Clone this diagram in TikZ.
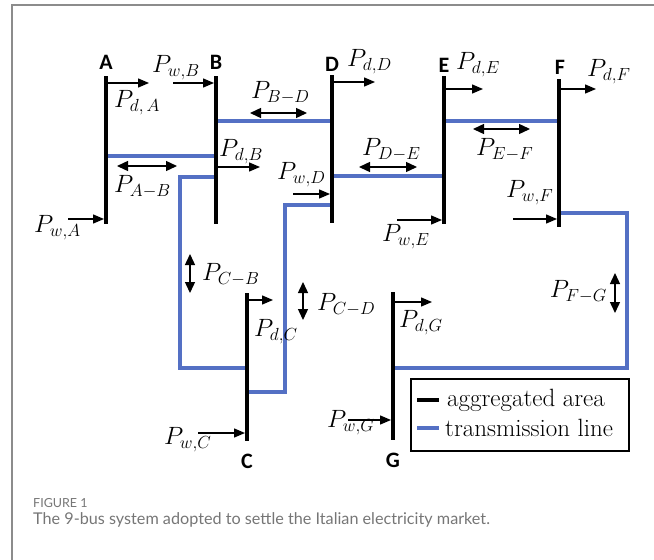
\RequirePackage{fix-cm}
\documentclass[tikz,border=0pt]{standalone}
\usepackage{fontspec}
\newfontfamily\busfont{Carlito}
\newfontfamily\capfont{Lato}
\definecolor{TLblue}{HTML}{5470C4}
\definecolor{CAPgray}{HTML}{767676}
\definecolor{FRAMEgray}{HTML}{8C8C8C}
\usetikzlibrary{arrows.meta, calc}

\begin{document}
\begin{tikzpicture}[x=1pt, y=-1pt,
   bus/.style={line width=4pt},
   tline/.style={TLblue, line width=3.3pt},
   flow/.style={-{Triangle[length=11pt,width=9pt]}, line width=1.4pt},
   exch/.style={{Triangle[length=11pt,width=10pt]}-{Triangle[length=11pt,width=10pt]}, line width=1.4pt},
   lbl/.style={inner sep=0pt, anchor=west, font=\fontsize{25}{28}\selectfont},
   busname/.style={inner sep=0pt, font=\busfont\bfseries\fontsize{22}{25}\selectfont},
   legtxt/.style={inner sep=0pt, anchor=west, font=\fontsize{25}{28}\selectfont}]
   \useasboundingbox (0,0) rectangle (654,560);
   % Frame
   \draw[FRAMEgray, line width=1.2pt] (12,560) -- (12,5) -- (654,5);
   % Bus tops
   \foreach \n/\x/\y in {A/106/76, B/216/76, D/332/75, E/444/76, F/559/79, C/247/293, G/393/292}
      \coordinate (\n) at (\x,\y);
   % Transmission lines
   \draw[tline] (A |- 0,156) -- (B |- 0,156);
   \draw[tline] (B |- 0,121) -- (D |- 0,121);
   \draw[tline] (D |- 0,176) -- (E |- 0,176);
   \draw[tline] (E |- 0,121) -- (F |- 0,121);
   \draw[tline] (B |- 0,177) -| (180,368) -- (C |- 0,368);
   \draw[tline] (D |- 0,205) -| (285,392) -- (C |- 0,392);
   \draw[tline] (F |- 0,213) -| (627,368) -- (G |- 0,368);
   % Aggregated areas
   \foreach \n in {A,B,D,E,F,C,G}
      \draw[bus] (\n) -- ++(0,148);
   \node[busname] (nameA) at (106,62) {A};
   \node[busname] (nameB) at (216,62) {B};
   \node[busname] (nameD) at (332,64) {D};
   \node[busname] (nameE) at (444,65) {E};
   \node[busname] (nameF) at (560,67) {F};
   \node[busname] (nameC) at (247,461) {C};
   \node[busname] (nameG) at (393,460) {G};
   % Demand and wind injections
   \draw[flow] (A |- 0,83) -- ++(43,0);
   \node[lbl] (PdA) at (114,103) {$P_{d,\,A}$};
   \draw[flow, shorten >=2pt] ($(B |- 0,83)+(-43,0)$) -- (B |- 0,83);
   \node[lbl] (PwB) at (152,68) {$P_{w,B}$};
   \draw[flow] (B |- 0,167) -- ++(44,0);
   \node[lbl] (PdB) at (219,152) {$P_{d,B}$};
   \draw[flow, shorten >=2pt] ($(A |- 0,219)+(-38,0)$) -- (A |- 0,219);
   \node[lbl] (PwA) at (34,228) {$P_{w,A}$};
   \draw[flow, shorten >=2pt] ($(D |- 0,194)+(-39,0)$) -- (D |- 0,194);
   \node[lbl] (PwD) at (277,175) {$P_{w,D}$};
   \draw[flow] (D |- 0,82) -- ++(43,0);
   \node[lbl] (PdD) at (347,62) {$P_{d,D}$};
   \draw[flow] (E |- 0,89) -- ++(39,0);
   \node[lbl] (PdE) at (456,65) {$P_{d,E}$};
   \draw[flow] (F |- 0,89) -- ++(37,0);
   \node[lbl] (PdF) at (587,72) {$P_{d,F}$};
   \draw[flow, shorten >=2pt] ($(E |- 0,220)+(-47,0)$) -- (E |- 0,220);
   \node[lbl] (PwE) at (382,237) {$P_{w,E}$};
   \draw[flow, shorten >=2pt] ($(F |- 0,219)+(-46,0)$) -- (F |- 0,219);
   \node[lbl] (PwF) at (506,193) {$P_{w,F}$};
   \draw[flow] (C |- 0,300) -- ++(26,0);
   \node[lbl] (PdC) at (254,332) {$P_{d,C}$};
   \draw[flow, shorten >=2pt] ($(C |- 0,433)+(-49,0)$) -- (C |- 0,433);
   \node[lbl] (PwC) at (164,440) {$P_{w,C}$};
   \draw[flow] (G |- 0,302) -- ++(39,0);
   \node[lbl] (PdG) at (399,323) {$P_{d,G}$};
   \draw[flow, shorten >=2pt] ($(G |- 0,420)+(-45,0)$) -- (G |- 0,420);
   \node[lbl] (PwG) at (327,423) {$P_{w,G}$};
   % Exchanges
   \draw[exch] (117,166) -- (177,166);
   \node[lbl] (PAB) at (114,187) {$P_{A-B}$};
   \draw[exch] (250,113) -- (307,113);
   \node[lbl] (PBD) at (251,93) {$P_{B-D}$};
   \draw[exch] (359,167) -- (417,167);
   \node[lbl] (PDE) at (362,150) {$P_{D-E}$};
   \draw[exch] (473,129) -- (530,129);
   \node[lbl] (PEF) at (476,150) {$P_{E-F}$};
   \draw[exch] (190,254) -- (190,293);
   \node[lbl] (PCB) at (202,275) {$P_{C-B}$};
   \draw[exch] (303,282) -- (303,320);
   \node[lbl] (PCD) at (317,305) {$P_{C-D}$};
   \draw[exch] (615,273) -- (615,313);
   \node[lbl, anchor=east] (PFG) at (607,292) {$P_{F-G}$};
   % Legend
   \node[draw, line width=1.3pt, minimum width=218pt, minimum height=72pt, inner sep=0pt] (legend) at (520,415) {};
   \node[legtxt] (legAgg) at (447,400) {aggregated area};
   \node[legtxt] (legTl) at (445,428) {transmission line};
   \draw[bus] ($(legAgg.west)+(-30,0)$) -- ++(22,0);
   \draw[tline, line width=4pt] ($(legTl.west)+(-28,0)$) -- ++(22,0);
   % Caption
   \node[anchor=base west, inner sep=0pt, CAPgray, font=\capfont\fontsize{12.5}{15}\selectfont] (figno) at (33,507) {FIGURE 1};
   \node[anchor=base west, inner sep=0pt, CAPgray, font=\capfont\fontsize{16.2}{19}\selectfont] (figcap) at (33,524) {The 9-bus system adopted to settle the Italian electricity market.};
\end{tikzpicture}
\end{document}
